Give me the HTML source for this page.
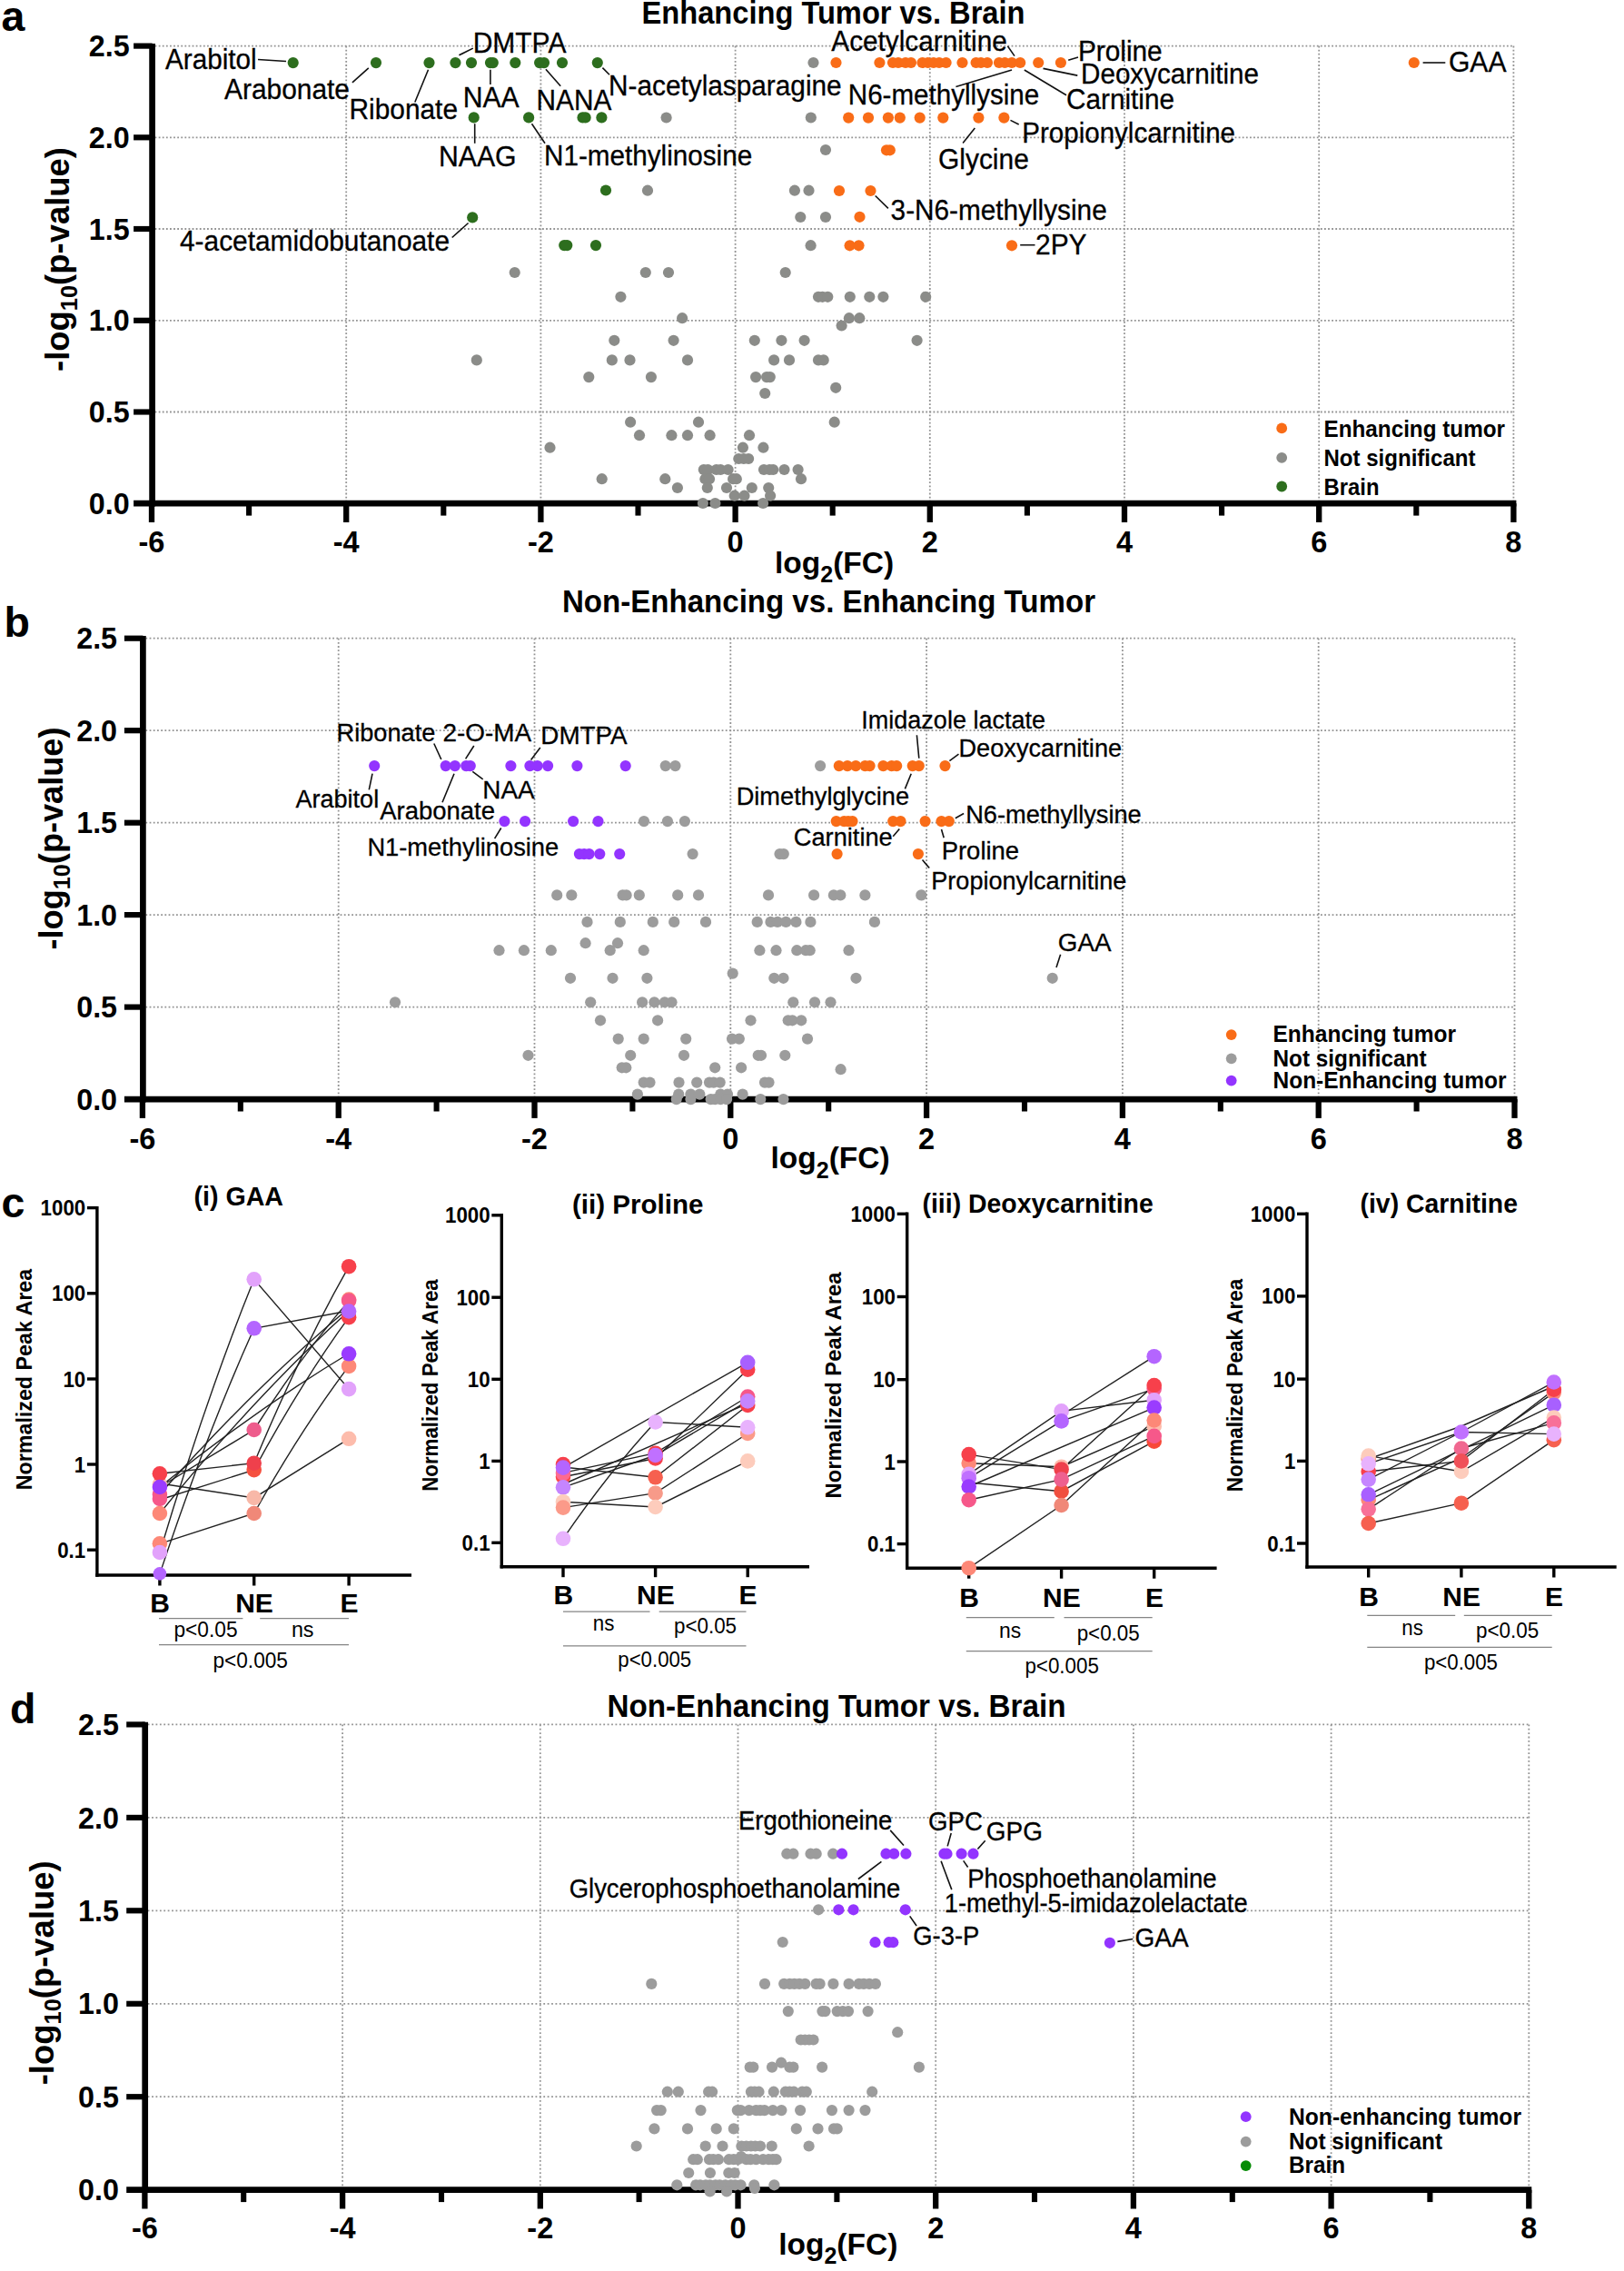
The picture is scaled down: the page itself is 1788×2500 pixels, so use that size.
<!DOCTYPE html>
<html lang="en"><head><meta charset="utf-8"><title>Figure</title>
<style>html,body{margin:0;padding:0;background:#fff}body{width:1788px;height:2500px;overflow:hidden}svg{display:block}text{font-family:'Liberation Sans', Arial, Helvetica, sans-serif;fill:#000}</style>
</head><body>
<svg width="1788" height="2500" viewBox="0 0 1788 2500">
<rect width="1788" height="2500" fill="#fff"/>
<text x="1.5" y="34.0" font-size="46.5" font-weight="bold">a</text>
<text x="4.5" y="700.5" font-size="46.5" font-weight="bold">b</text>
<text x="1.5" y="1340.3" font-size="46.5" font-weight="bold">c</text>
<text x="11.0" y="1897.0" font-size="46.5" font-weight="bold">d</text>
<g stroke="#939393" stroke-width="1.8" stroke-dasharray="1.8 2.30" fill="none">
<line x1="170.6" y1="453.5" x2="1666.4" y2="453.5"/>
<line x1="170.6" y1="352.8" x2="1666.4" y2="352.8"/>
<line x1="170.6" y1="252.0" x2="1666.4" y2="252.0"/>
<line x1="170.6" y1="151.3" x2="1666.4" y2="151.3"/>
<line x1="170.6" y1="50.6" x2="1666.4" y2="50.6"/>
<line x1="381.2" y1="50.6" x2="381.2" y2="551.2"/>
<line x1="595.4" y1="50.6" x2="595.4" y2="551.2"/>
<line x1="809.6" y1="50.6" x2="809.6" y2="551.2"/>
<line x1="1023.8" y1="50.6" x2="1023.8" y2="551.2"/>
<line x1="1238.0" y1="50.6" x2="1238.0" y2="551.2"/>
<line x1="1452.2" y1="50.6" x2="1452.2" y2="551.2"/>
<line x1="1666.4" y1="50.6" x2="1666.4" y2="551.2"/>
</g>
<g stroke="#000" fill="none">
<line x1="167.6" y1="47.9" x2="167.6" y2="557.6" stroke-width="6.7"/>
<line x1="147.1" y1="554.2" x2="1669.4" y2="554.2" stroke-width="6.7"/>
<line x1="147.1" y1="453.5" x2="167.6" y2="453.5" stroke-width="6.2"/>
<line x1="147.1" y1="352.8" x2="167.6" y2="352.8" stroke-width="6.2"/>
<line x1="147.1" y1="252.0" x2="167.6" y2="252.0" stroke-width="6.2"/>
<line x1="147.1" y1="151.3" x2="167.6" y2="151.3" stroke-width="6.2"/>
<line x1="147.1" y1="50.6" x2="167.6" y2="50.6" stroke-width="6.2"/>
<line x1="167.0" y1="554.2" x2="167.0" y2="575.0" stroke-width="6.3"/>
<line x1="274.1" y1="554.2" x2="274.1" y2="567.6" stroke-width="6.1"/>
<line x1="381.2" y1="554.2" x2="381.2" y2="575.0" stroke-width="6.3"/>
<line x1="488.3" y1="554.2" x2="488.3" y2="567.6" stroke-width="6.1"/>
<line x1="595.4" y1="554.2" x2="595.4" y2="575.0" stroke-width="6.3"/>
<line x1="702.5" y1="554.2" x2="702.5" y2="567.6" stroke-width="6.1"/>
<line x1="809.6" y1="554.2" x2="809.6" y2="575.0" stroke-width="6.3"/>
<line x1="916.7" y1="554.2" x2="916.7" y2="567.6" stroke-width="6.1"/>
<line x1="1023.8" y1="554.2" x2="1023.8" y2="575.0" stroke-width="6.3"/>
<line x1="1130.9" y1="554.2" x2="1130.9" y2="567.6" stroke-width="6.1"/>
<line x1="1238.0" y1="554.2" x2="1238.0" y2="575.0" stroke-width="6.3"/>
<line x1="1345.1" y1="554.2" x2="1345.1" y2="567.6" stroke-width="6.1"/>
<line x1="1452.2" y1="554.2" x2="1452.2" y2="575.0" stroke-width="6.3"/>
<line x1="1559.3" y1="554.2" x2="1559.3" y2="567.6" stroke-width="6.1"/>
<line x1="1666.4" y1="554.2" x2="1666.4" y2="575.0" stroke-width="6.3"/>
</g>
<g font-weight="bold" font-size="33.4">
<text x="97.8" y="565.8" textLength="44.9" lengthAdjust="spacingAndGlyphs">0.0</text>
<text x="97.8" y="465.1" textLength="44.9" lengthAdjust="spacingAndGlyphs">0.5</text>
<text x="97.8" y="364.4" textLength="44.9" lengthAdjust="spacingAndGlyphs">1.0</text>
<text x="97.8" y="263.6" textLength="44.9" lengthAdjust="spacingAndGlyphs">1.5</text>
<text x="97.8" y="162.9" textLength="44.9" lengthAdjust="spacingAndGlyphs">2.0</text>
<text x="97.8" y="62.2" textLength="44.9" lengthAdjust="spacingAndGlyphs">2.5</text>
<text x="167.0" y="607.8" text-anchor="middle" font-size="32.5">-6</text>
<text x="381.2" y="607.8" text-anchor="middle" font-size="32.5">-4</text>
<text x="595.4" y="607.8" text-anchor="middle" font-size="32.5">-2</text>
<text x="809.6" y="607.8" text-anchor="middle" font-size="32.5">0</text>
<text x="1023.8" y="607.8" text-anchor="middle" font-size="32.5">2</text>
<text x="1238.0" y="607.8" text-anchor="middle" font-size="32.5">4</text>
<text x="1452.2" y="607.8" text-anchor="middle" font-size="32.5">6</text>
<text x="1666.4" y="607.8" text-anchor="middle" font-size="32.5">8</text>
</g>
<text x="706.5" y="26.3" font-size="34.2" font-weight="bold" textLength="422.0" lengthAdjust="spacingAndGlyphs">Enhancing Tumor vs. Brain</text>
<text transform="translate(75.9 409.0) rotate(-90)" font-size="37.5" font-weight="bold" textLength="247.0" lengthAdjust="spacingAndGlyphs">-log<tspan font-size="26.2" dy="8.6">10</tspan><tspan dy="-8.6">(p-value)</tspan></text>
<text x="853.0" y="630.5" font-size="33.5" font-weight="bold">log<tspan font-size="25.0" dy="10.6">2</tspan><tspan dy="-10.6">(FC)</tspan></text>
<g stroke="#111" stroke-width="1.6" stroke-linecap="butt">
<line x1="284.0" y1="65.5" x2="315.0" y2="67.5"/>
<line x1="471.5" y1="76.8" x2="456.8" y2="112.5"/>
<line x1="405.8" y1="74.8" x2="387.9" y2="90.8"/>
<line x1="505.4" y1="60.8" x2="520.8" y2="53.1"/>
<line x1="539.9" y1="76.8" x2="539.9" y2="93.1"/>
<line x1="600.9" y1="76.2" x2="617.2" y2="94.7"/>
<line x1="663.4" y1="74.6" x2="671.0" y2="82.3"/>
<line x1="522.7" y1="136.2" x2="522.7" y2="157.8"/>
<line x1="585.5" y1="136.2" x2="600.0" y2="157.8"/>
<line x1="515.6" y1="245.5" x2="497.7" y2="261.5"/>
<line x1="1109.4" y1="50.8" x2="1117.0" y2="61.6"/>
<line x1="1176.2" y1="66.2" x2="1187.0" y2="63.1"/>
<line x1="1148.5" y1="75.4" x2="1186.3" y2="83.1"/>
<line x1="1114.0" y1="77.0" x2="1052.4" y2="95.4"/>
<line x1="1127.8" y1="77.0" x2="1174.0" y2="104.7"/>
<line x1="1112.5" y1="132.4" x2="1121.7" y2="137.0"/>
<line x1="1073.3" y1="141.0" x2="1060.1" y2="157.6"/>
<line x1="963.7" y1="215.5" x2="977.9" y2="229.4"/>
<line x1="1123.2" y1="269.7" x2="1139.5" y2="269.7"/>
<line x1="1566.6" y1="69.0" x2="1591.3" y2="69.0"/>
</g>
<text x="182.0" y="76.4" font-size="31.0" textLength="100.7" lengthAdjust="spacingAndGlyphs" stroke="#000" stroke-width="0.3">Arabitol</text>
<text x="247.0" y="108.5" font-size="31.0" textLength="138.0" lengthAdjust="spacingAndGlyphs" stroke="#000" stroke-width="0.3">Arabonate</text>
<text x="384.5" y="131.0" font-size="31.0" textLength="119.5" lengthAdjust="spacingAndGlyphs" stroke="#000" stroke-width="0.3">Ribonate</text>
<text x="520.7" y="58.3" font-size="31.0" textLength="102.7" lengthAdjust="spacingAndGlyphs" stroke="#000" stroke-width="0.3">DMTPA</text>
<text x="509.7" y="117.7" font-size="31.0" textLength="62.0" lengthAdjust="spacingAndGlyphs" stroke="#000" stroke-width="0.3">NAA</text>
<text x="590.6" y="121.4" font-size="31.0" textLength="82.7" lengthAdjust="spacingAndGlyphs" stroke="#000" stroke-width="0.3">NANA</text>
<text x="670.0" y="105.4" font-size="31.0" textLength="256.7" lengthAdjust="spacingAndGlyphs" stroke="#000" stroke-width="0.3">N-acetylasparagine</text>
<text x="482.9" y="183.0" font-size="31.0" textLength="85.7" lengthAdjust="spacingAndGlyphs" stroke="#000" stroke-width="0.3">NAAG</text>
<text x="599.0" y="181.5" font-size="31.0" textLength="229.2" lengthAdjust="spacingAndGlyphs" stroke="#000" stroke-width="0.3">N1-methylinosine</text>
<text x="198.0" y="276.3" font-size="31.0" textLength="297.0" lengthAdjust="spacingAndGlyphs" stroke="#000" stroke-width="0.3">4-acetamidobutanoate</text>
<text x="915.3" y="56.0" font-size="31.0" textLength="193.5" lengthAdjust="spacingAndGlyphs" stroke="#000" stroke-width="0.3">Acetylcarnitine</text>
<text x="1186.9" y="67.1" font-size="31.0" textLength="92.8" lengthAdjust="spacingAndGlyphs" stroke="#000" stroke-width="0.3">Proline</text>
<text x="1190.0" y="92.4" font-size="31.0" textLength="196.0" lengthAdjust="spacingAndGlyphs" stroke="#000" stroke-width="0.3">Deoxycarnitine</text>
<text x="933.8" y="114.5" font-size="31.0" textLength="210.4" lengthAdjust="spacingAndGlyphs" stroke="#000" stroke-width="0.3">N6-methyllysine</text>
<text x="1174.0" y="120.0" font-size="31.0" textLength="119.0" lengthAdjust="spacingAndGlyphs" stroke="#000" stroke-width="0.3">Carnitine</text>
<text x="1125.3" y="157.0" font-size="31.0" textLength="234.7" lengthAdjust="spacingAndGlyphs" stroke="#000" stroke-width="0.3">Propionylcarnitine</text>
<text x="1033.0" y="186.3" font-size="31.0" textLength="99.8" lengthAdjust="spacingAndGlyphs" stroke="#000" stroke-width="0.3">Glycine</text>
<text x="980.6" y="241.7" font-size="31.0" textLength="238.1" lengthAdjust="spacingAndGlyphs" stroke="#000" stroke-width="0.3">3-N6-methyllysine</text>
<text x="1140.0" y="279.6" font-size="31.0" textLength="56.6" lengthAdjust="spacingAndGlyphs" stroke="#000" stroke-width="0.3">2PY</text>
<text x="1594.9" y="79.4" font-size="31.0" textLength="63.6" lengthAdjust="spacingAndGlyphs" stroke="#000" stroke-width="0.3">GAA</text>
<g fill="#8b8c89">
<circle cx="895.5" cy="69.0" r="6.1"/>
<circle cx="733.6" cy="129.5" r="6.1"/>
<circle cx="892.8" cy="129.5" r="6.1"/>
<circle cx="909.0" cy="165.0" r="6.1"/>
<circle cx="713.0" cy="209.7" r="6.1"/>
<circle cx="874.9" cy="209.7" r="6.1"/>
<circle cx="890.5" cy="209.7" r="6.1"/>
<circle cx="881.3" cy="239.0" r="6.1"/>
<circle cx="909.0" cy="239.0" r="6.1"/>
<circle cx="892.6" cy="270.2" r="6.1"/>
<circle cx="566.7" cy="300.0" r="6.1"/>
<circle cx="710.8" cy="300.0" r="6.1"/>
<circle cx="736.0" cy="300.0" r="6.1"/>
<circle cx="864.7" cy="300.0" r="6.1"/>
<circle cx="683.4" cy="326.8" r="6.1"/>
<circle cx="901.0" cy="326.8" r="6.1"/>
<circle cx="905.5" cy="326.8" r="6.1"/>
<circle cx="911.3" cy="326.8" r="6.1"/>
<circle cx="935.8" cy="326.8" r="6.1"/>
<circle cx="957.3" cy="326.8" r="6.1"/>
<circle cx="972.4" cy="326.8" r="6.1"/>
<circle cx="1019.2" cy="326.8" r="6.1"/>
<circle cx="751.1" cy="350.2" r="6.1"/>
<circle cx="934.9" cy="350.2" r="6.1"/>
<circle cx="946.3" cy="350.2" r="6.1"/>
<circle cx="926.6" cy="358.5" r="6.1"/>
<circle cx="676.3" cy="374.8" r="6.1"/>
<circle cx="741.6" cy="374.8" r="6.1"/>
<circle cx="830.8" cy="374.8" r="6.1"/>
<circle cx="860.4" cy="374.8" r="6.1"/>
<circle cx="885.6" cy="374.8" r="6.1"/>
<circle cx="1009.6" cy="374.8" r="6.1"/>
<circle cx="524.8" cy="396.4" r="6.1"/>
<circle cx="673.8" cy="396.4" r="6.1"/>
<circle cx="693.5" cy="396.4" r="6.1"/>
<circle cx="757.0" cy="396.4" r="6.1"/>
<circle cx="852.1" cy="396.4" r="6.1"/>
<circle cx="869.0" cy="396.4" r="6.1"/>
<circle cx="901.0" cy="396.4" r="6.1"/>
<circle cx="906.7" cy="396.4" r="6.1"/>
<circle cx="648.3" cy="415.1" r="6.1"/>
<circle cx="716.9" cy="415.1" r="6.1"/>
<circle cx="832.1" cy="415.1" r="6.1"/>
<circle cx="844.1" cy="415.1" r="6.1"/>
<circle cx="847.8" cy="415.1" r="6.1"/>
<circle cx="920.2" cy="426.8" r="6.1"/>
<circle cx="842.2" cy="433.0" r="6.1"/>
<circle cx="694.1" cy="464.7" r="6.1"/>
<circle cx="769.0" cy="464.7" r="6.1"/>
<circle cx="918.7" cy="464.7" r="6.1"/>
<circle cx="704.0" cy="479.2" r="6.1"/>
<circle cx="739.4" cy="479.2" r="6.1"/>
<circle cx="757.0" cy="479.2" r="6.1"/>
<circle cx="781.6" cy="479.2" r="6.1"/>
<circle cx="825.0" cy="479.2" r="6.1"/>
<circle cx="605.5" cy="492.7" r="6.1"/>
<circle cx="817.9" cy="492.7" r="6.1"/>
<circle cx="840.4" cy="492.7" r="6.1"/>
<circle cx="813.3" cy="505.0" r="6.1"/>
<circle cx="818.8" cy="505.0" r="6.1"/>
<circle cx="824.1" cy="505.0" r="6.1"/>
<circle cx="774.8" cy="517.0" r="6.1"/>
<circle cx="779.4" cy="517.0" r="6.1"/>
<circle cx="788.7" cy="517.0" r="6.1"/>
<circle cx="793.3" cy="517.0" r="6.1"/>
<circle cx="801.6" cy="517.0" r="6.1"/>
<circle cx="841.0" cy="517.0" r="6.1"/>
<circle cx="847.2" cy="517.0" r="6.1"/>
<circle cx="851.2" cy="517.0" r="6.1"/>
<circle cx="863.5" cy="517.0" r="6.1"/>
<circle cx="878.6" cy="517.0" r="6.1"/>
<circle cx="662.7" cy="527.2" r="6.1"/>
<circle cx="732.3" cy="527.2" r="6.1"/>
<circle cx="776.4" cy="527.2" r="6.1"/>
<circle cx="781.0" cy="527.2" r="6.1"/>
<circle cx="807.1" cy="527.2" r="6.1"/>
<circle cx="810.8" cy="527.2" r="6.1"/>
<circle cx="882.0" cy="527.2" r="6.1"/>
<circle cx="745.9" cy="537.0" r="6.1"/>
<circle cx="778.8" cy="537.0" r="6.1"/>
<circle cx="800.0" cy="537.0" r="6.1"/>
<circle cx="827.8" cy="537.0" r="6.1"/>
<circle cx="846.2" cy="537.0" r="6.1"/>
<circle cx="808.7" cy="545.7" r="6.1"/>
<circle cx="819.5" cy="545.7" r="6.1"/>
<circle cx="848.1" cy="545.7" r="6.1"/>
<circle cx="773.9" cy="554.0" r="6.1"/>
<circle cx="787.4" cy="554.0" r="6.1"/>
<circle cx="840.1" cy="554.0" r="6.1"/>
</g>
<g fill="#2d6e1e">
<circle cx="322.7" cy="69.1" r="6.1"/>
<circle cx="414.0" cy="69.1" r="6.1"/>
<circle cx="472.5" cy="69.1" r="6.1"/>
<circle cx="501.4" cy="69.1" r="6.1"/>
<circle cx="519.0" cy="69.1" r="6.1"/>
<circle cx="540.0" cy="69.1" r="6.1"/>
<circle cx="542.8" cy="69.1" r="6.1"/>
<circle cx="567.3" cy="69.1" r="6.1"/>
<circle cx="594.1" cy="69.1" r="6.1"/>
<circle cx="599.0" cy="69.1" r="6.1"/>
<circle cx="619.0" cy="69.1" r="6.1"/>
<circle cx="657.8" cy="69.1" r="6.1"/>
<circle cx="521.7" cy="129.4" r="6.1"/>
<circle cx="582.1" cy="129.4" r="6.1"/>
<circle cx="641.5" cy="129.4" r="6.1"/>
<circle cx="644.6" cy="129.4" r="6.1"/>
<circle cx="662.4" cy="129.4" r="6.1"/>
<circle cx="667.0" cy="209.5" r="6.1"/>
<circle cx="520.2" cy="239.4" r="6.1"/>
<circle cx="621.2" cy="270.1" r="6.1"/>
<circle cx="624.3" cy="270.1" r="6.1"/>
<circle cx="656.0" cy="270.1" r="6.1"/>
</g>
<g fill="#f96c17">
<circle cx="920.5" cy="69.0" r="6.1"/>
<circle cx="968.4" cy="69.0" r="6.1"/>
<circle cx="983.0" cy="69.0" r="6.1"/>
<circle cx="989.0" cy="69.0" r="6.1"/>
<circle cx="997.0" cy="69.0" r="6.1"/>
<circle cx="1003.0" cy="69.0" r="6.1"/>
<circle cx="1015.5" cy="69.0" r="6.1"/>
<circle cx="1021.6" cy="69.0" r="6.1"/>
<circle cx="1027.8" cy="69.0" r="6.1"/>
<circle cx="1034.0" cy="69.0" r="6.1"/>
<circle cx="1041.6" cy="69.0" r="6.1"/>
<circle cx="1059.5" cy="69.0" r="6.1"/>
<circle cx="1074.6" cy="69.0" r="6.1"/>
<circle cx="1080.0" cy="69.0" r="6.1"/>
<circle cx="1087.0" cy="69.0" r="6.1"/>
<circle cx="1100.0" cy="69.0" r="6.1"/>
<circle cx="1106.3" cy="69.0" r="6.1"/>
<circle cx="1114.0" cy="69.0" r="6.1"/>
<circle cx="1123.2" cy="69.0" r="6.1"/>
<circle cx="1143.2" cy="69.0" r="6.1"/>
<circle cx="1167.9" cy="69.0" r="6.1"/>
<circle cx="1556.8" cy="69.0" r="6.1"/>
<circle cx="934.2" cy="129.6" r="6.1"/>
<circle cx="956.0" cy="129.6" r="6.1"/>
<circle cx="977.9" cy="129.6" r="6.1"/>
<circle cx="990.8" cy="129.6" r="6.1"/>
<circle cx="1012.7" cy="129.6" r="6.1"/>
<circle cx="1038.3" cy="129.6" r="6.1"/>
<circle cx="1077.4" cy="129.6" r="6.1"/>
<circle cx="1105.4" cy="129.6" r="6.1"/>
<circle cx="976.0" cy="165.3" r="6.1"/>
<circle cx="979.8" cy="165.3" r="6.1"/>
<circle cx="924.0" cy="210.0" r="6.1"/>
<circle cx="958.5" cy="210.0" r="6.1"/>
<circle cx="946.5" cy="238.8" r="6.1"/>
<circle cx="935.6" cy="270.3" r="6.1"/>
<circle cx="945.5" cy="270.3" r="6.1"/>
<circle cx="1114.0" cy="270.3" r="6.1"/>
</g>
<circle cx="1411.2" cy="471.4" r="5.9" fill="#f96c17"/><circle cx="1411.2" cy="503.8" r="5.9" fill="#8b8c89"/><circle cx="1411.2" cy="535.5" r="5.9" fill="#2d6e1e"/>
<text x="1457.5" y="480.7" font-size="25.7" font-weight="bold" textLength="199.5" lengthAdjust="spacingAndGlyphs">Enhancing tumor</text>
<text x="1457.5" y="513.3" font-size="25.7" font-weight="bold" textLength="167.0" lengthAdjust="spacingAndGlyphs">Not significant</text>
<text x="1457.5" y="544.7" font-size="25.7" font-weight="bold" textLength="61.0" lengthAdjust="spacingAndGlyphs">Brain</text>
<g stroke="#939393" stroke-width="1.8" stroke-dasharray="1.8 2.40" fill="none">
<line x1="160.4" y1="1108.6" x2="1667.5" y2="1108.6"/>
<line x1="160.4" y1="1007.1" x2="1667.5" y2="1007.1"/>
<line x1="160.4" y1="905.7" x2="1667.5" y2="905.7"/>
<line x1="160.4" y1="804.2" x2="1667.5" y2="804.2"/>
<line x1="160.4" y1="702.7" x2="1667.5" y2="702.7"/>
<line x1="372.7" y1="702.7" x2="372.7" y2="1207.1"/>
<line x1="588.5" y1="702.7" x2="588.5" y2="1207.1"/>
<line x1="804.3" y1="702.7" x2="804.3" y2="1207.1"/>
<line x1="1020.1" y1="702.7" x2="1020.1" y2="1207.1"/>
<line x1="1235.9" y1="702.7" x2="1235.9" y2="1207.1"/>
<line x1="1451.7" y1="702.7" x2="1451.7" y2="1207.1"/>
<line x1="1667.5" y1="702.7" x2="1667.5" y2="1207.1"/>
</g>
<g stroke="#000" fill="none">
<line x1="157.4" y1="700.0" x2="157.4" y2="1213.4" stroke-width="6.7"/>
<line x1="136.9" y1="1210.1" x2="1670.5" y2="1210.1" stroke-width="6.7"/>
<line x1="136.9" y1="1108.6" x2="157.4" y2="1108.6" stroke-width="6.2"/>
<line x1="136.9" y1="1007.1" x2="157.4" y2="1007.1" stroke-width="6.2"/>
<line x1="136.9" y1="905.7" x2="157.4" y2="905.7" stroke-width="6.2"/>
<line x1="136.9" y1="804.2" x2="157.4" y2="804.2" stroke-width="6.2"/>
<line x1="136.9" y1="702.7" x2="157.4" y2="702.7" stroke-width="6.2"/>
<line x1="156.9" y1="1210.1" x2="156.9" y2="1230.9" stroke-width="6.3"/>
<line x1="264.8" y1="1210.1" x2="264.8" y2="1223.5" stroke-width="6.1"/>
<line x1="372.7" y1="1210.1" x2="372.7" y2="1230.9" stroke-width="6.3"/>
<line x1="480.6" y1="1210.1" x2="480.6" y2="1223.5" stroke-width="6.1"/>
<line x1="588.5" y1="1210.1" x2="588.5" y2="1230.9" stroke-width="6.3"/>
<line x1="696.4" y1="1210.1" x2="696.4" y2="1223.5" stroke-width="6.1"/>
<line x1="804.3" y1="1210.1" x2="804.3" y2="1230.9" stroke-width="6.3"/>
<line x1="912.2" y1="1210.1" x2="912.2" y2="1223.5" stroke-width="6.1"/>
<line x1="1020.1" y1="1210.1" x2="1020.1" y2="1230.9" stroke-width="6.3"/>
<line x1="1128.0" y1="1210.1" x2="1128.0" y2="1223.5" stroke-width="6.1"/>
<line x1="1235.9" y1="1210.1" x2="1235.9" y2="1230.9" stroke-width="6.3"/>
<line x1="1343.8" y1="1210.1" x2="1343.8" y2="1223.5" stroke-width="6.1"/>
<line x1="1451.7" y1="1210.1" x2="1451.7" y2="1230.9" stroke-width="6.3"/>
<line x1="1559.6" y1="1210.1" x2="1559.6" y2="1223.5" stroke-width="6.1"/>
<line x1="1667.5" y1="1210.1" x2="1667.5" y2="1230.9" stroke-width="6.3"/>
</g>
<g font-weight="bold" font-size="33.4">
<text x="84.2" y="1221.7" textLength="44.9" lengthAdjust="spacingAndGlyphs">0.0</text>
<text x="84.2" y="1120.2" textLength="44.9" lengthAdjust="spacingAndGlyphs">0.5</text>
<text x="84.2" y="1018.7" textLength="44.9" lengthAdjust="spacingAndGlyphs">1.0</text>
<text x="84.2" y="917.3" textLength="44.9" lengthAdjust="spacingAndGlyphs">1.5</text>
<text x="84.2" y="815.8" textLength="44.9" lengthAdjust="spacingAndGlyphs">2.0</text>
<text x="84.2" y="714.3" textLength="44.9" lengthAdjust="spacingAndGlyphs">2.5</text>
<text x="156.9" y="1264.7" text-anchor="middle" font-size="32.5">-6</text>
<text x="372.7" y="1264.7" text-anchor="middle" font-size="32.5">-4</text>
<text x="588.5" y="1264.7" text-anchor="middle" font-size="32.5">-2</text>
<text x="804.3" y="1264.7" text-anchor="middle" font-size="32.5">0</text>
<text x="1020.1" y="1264.7" text-anchor="middle" font-size="32.5">2</text>
<text x="1235.9" y="1264.7" text-anchor="middle" font-size="32.5">4</text>
<text x="1451.7" y="1264.7" text-anchor="middle" font-size="32.5">6</text>
<text x="1667.5" y="1264.7" text-anchor="middle" font-size="32.5">8</text>
</g>
<text x="619.0" y="674.2" font-size="34.2" font-weight="bold" textLength="587.0" lengthAdjust="spacingAndGlyphs">Non-Enhancing vs. Enhancing Tumor</text>
<text transform="translate(68.5 1045.5) rotate(-90)" font-size="37.5" font-weight="bold" textLength="245.0" lengthAdjust="spacingAndGlyphs">-log<tspan font-size="26.2" dy="8.6">10</tspan><tspan dy="-8.6">(p-value)</tspan></text>
<text x="848.5" y="1286.2" font-size="33.5" font-weight="bold">log<tspan font-size="25.0" dy="10.6">2</tspan><tspan dy="-10.6">(FC)</tspan></text>
<g stroke="#111" stroke-width="1.6" stroke-linecap="butt">
<line x1="410.0" y1="851.7" x2="406.3" y2="869.3"/>
<line x1="477.8" y1="818.5" x2="485.8" y2="836.0"/>
<line x1="521.8" y1="821.0" x2="512.6" y2="835.4"/>
<line x1="594.8" y1="823.1" x2="584.6" y2="836.4"/>
<line x1="520.3" y1="849.3" x2="531.7" y2="857.9"/>
<line x1="500.0" y1="851.7" x2="487.0" y2="883.2"/>
<line x1="551.7" y1="911.5" x2="544.6" y2="923.2"/>
<line x1="1009.4" y1="809.3" x2="1011.8" y2="834.8"/>
<line x1="1045.4" y1="837.6" x2="1055.5" y2="830.2"/>
<line x1="1003.2" y1="851.7" x2="996.4" y2="868.4"/>
<line x1="1051.8" y1="900.7" x2="1061.1" y2="895.5"/>
<line x1="990.3" y1="912.4" x2="983.2" y2="920.7"/>
<line x1="1036.5" y1="913.0" x2="1039.2" y2="922.3"/>
<line x1="1015.5" y1="946.6" x2="1023.2" y2="955.5"/>
<line x1="1167.6" y1="1050.8" x2="1163.0" y2="1065.0"/>
</g>
<text x="370.6" y="816.0" font-size="28.4" textLength="108.7" lengthAdjust="spacingAndGlyphs" stroke="#000" stroke-width="0.3">Ribonate</text>
<text x="487.5" y="816.0" font-size="28.4" textLength="97.5" lengthAdjust="spacingAndGlyphs" stroke="#000" stroke-width="0.3">2-O-MA</text>
<text x="595.3" y="819.1" font-size="28.4" textLength="95.3" lengthAdjust="spacingAndGlyphs" stroke="#000" stroke-width="0.3">DMTPA</text>
<text x="531.3" y="878.5" font-size="28.4" textLength="57.4" lengthAdjust="spacingAndGlyphs" stroke="#000" stroke-width="0.3">NAA</text>
<text x="325.4" y="889.0" font-size="28.4" textLength="91.8" lengthAdjust="spacingAndGlyphs" stroke="#000" stroke-width="0.3">Arabitol</text>
<text x="418.3" y="901.6" font-size="28.4" textLength="126.7" lengthAdjust="spacingAndGlyphs" stroke="#000" stroke-width="0.3">Arabonate</text>
<text x="404.4" y="941.7" font-size="28.4" textLength="210.8" lengthAdjust="spacingAndGlyphs" stroke="#000" stroke-width="0.3">N1-methylinosine</text>
<text x="948.3" y="801.6" font-size="28.4" textLength="202.7" lengthAdjust="spacingAndGlyphs" stroke="#000" stroke-width="0.3">Imidazole lactate</text>
<text x="1055.5" y="833.0" font-size="28.4" textLength="179.6" lengthAdjust="spacingAndGlyphs" stroke="#000" stroke-width="0.3">Deoxycarnitine</text>
<text x="810.7" y="886.2" font-size="28.4" textLength="190.4" lengthAdjust="spacingAndGlyphs" stroke="#000" stroke-width="0.3">Dimethylglycine</text>
<text x="1063.2" y="905.6" font-size="28.4" textLength="193.5" lengthAdjust="spacingAndGlyphs" stroke="#000" stroke-width="0.3">N6-methyllysine</text>
<text x="873.8" y="930.9" font-size="28.4" textLength="108.9" lengthAdjust="spacingAndGlyphs" stroke="#000" stroke-width="0.3">Carnitine</text>
<text x="1036.7" y="946.3" font-size="28.4" textLength="85.4" lengthAdjust="spacingAndGlyphs" stroke="#000" stroke-width="0.3">Proline</text>
<text x="1025.3" y="978.6" font-size="28.4" textLength="215.0" lengthAdjust="spacingAndGlyphs" stroke="#000" stroke-width="0.3">Propionylcarnitine</text>
<text x="1164.8" y="1047.3" font-size="28.4" textLength="58.6" lengthAdjust="spacingAndGlyphs" stroke="#000" stroke-width="0.3">GAA</text>
<g fill="#9c9c9c">
<circle cx="732.7" cy="843.1" r="6.1"/>
<circle cx="743.5" cy="843.1" r="6.1"/>
<circle cx="903.1" cy="843.1" r="6.1"/>
<circle cx="709.0" cy="904.1" r="6.1"/>
<circle cx="734.9" cy="904.1" r="6.1"/>
<circle cx="753.9" cy="904.1" r="6.1"/>
<circle cx="762.6" cy="940.1" r="6.1"/>
<circle cx="858.5" cy="940.1" r="6.1"/>
<circle cx="862.8" cy="940.1" r="6.1"/>
<circle cx="613.2" cy="985.4" r="6.1"/>
<circle cx="629.3" cy="985.4" r="6.1"/>
<circle cx="685.6" cy="985.4" r="6.1"/>
<circle cx="689.6" cy="985.4" r="6.1"/>
<circle cx="703.8" cy="985.4" r="6.1"/>
<circle cx="746.2" cy="985.4" r="6.1"/>
<circle cx="769.0" cy="985.4" r="6.1"/>
<circle cx="846.0" cy="985.4" r="6.1"/>
<circle cx="896.1" cy="985.4" r="6.1"/>
<circle cx="917.9" cy="985.4" r="6.1"/>
<circle cx="925.3" cy="985.4" r="6.1"/>
<circle cx="952.4" cy="985.4" r="6.1"/>
<circle cx="1014.3" cy="985.4" r="6.1"/>
<circle cx="646.5" cy="1014.9" r="6.1"/>
<circle cx="682.8" cy="1014.9" r="6.1"/>
<circle cx="718.8" cy="1014.9" r="6.1"/>
<circle cx="742.2" cy="1014.9" r="6.1"/>
<circle cx="777.0" cy="1014.9" r="6.1"/>
<circle cx="833.7" cy="1014.9" r="6.1"/>
<circle cx="848.5" cy="1014.9" r="6.1"/>
<circle cx="856.0" cy="1014.9" r="6.1"/>
<circle cx="865.3" cy="1014.9" r="6.1"/>
<circle cx="876.4" cy="1014.9" r="6.1"/>
<circle cx="892.4" cy="1014.9" r="6.1"/>
<circle cx="962.9" cy="1014.9" r="6.1"/>
<circle cx="644.6" cy="1038.2" r="6.1"/>
<circle cx="680.0" cy="1038.2" r="6.1"/>
<circle cx="549.5" cy="1046.2" r="6.1"/>
<circle cx="576.9" cy="1046.2" r="6.1"/>
<circle cx="606.8" cy="1046.2" r="6.1"/>
<circle cx="671.7" cy="1046.2" r="6.1"/>
<circle cx="708.7" cy="1046.2" r="6.1"/>
<circle cx="836.4" cy="1046.2" r="6.1"/>
<circle cx="854.5" cy="1046.2" r="6.1"/>
<circle cx="877.3" cy="1046.2" r="6.1"/>
<circle cx="887.1" cy="1046.2" r="6.1"/>
<circle cx="891.7" cy="1046.2" r="6.1"/>
<circle cx="934.5" cy="1046.2" r="6.1"/>
<circle cx="806.7" cy="1071.6" r="6.1"/>
<circle cx="628.0" cy="1076.8" r="6.1"/>
<circle cx="674.5" cy="1076.8" r="6.1"/>
<circle cx="712.4" cy="1076.8" r="6.1"/>
<circle cx="852.3" cy="1076.8" r="6.1"/>
<circle cx="862.5" cy="1076.8" r="6.1"/>
<circle cx="942.5" cy="1076.8" r="6.1"/>
<circle cx="1158.7" cy="1076.8" r="6.1"/>
<circle cx="435.0" cy="1103.3" r="6.1"/>
<circle cx="650.2" cy="1103.3" r="6.1"/>
<circle cx="707.1" cy="1103.3" r="6.1"/>
<circle cx="720.4" cy="1103.3" r="6.1"/>
<circle cx="731.8" cy="1103.3" r="6.1"/>
<circle cx="739.5" cy="1103.3" r="6.1"/>
<circle cx="873.3" cy="1103.3" r="6.1"/>
<circle cx="897.0" cy="1103.3" r="6.1"/>
<circle cx="914.5" cy="1103.3" r="6.1"/>
<circle cx="661.0" cy="1123.3" r="6.1"/>
<circle cx="724.1" cy="1123.3" r="6.1"/>
<circle cx="826.5" cy="1123.3" r="6.1"/>
<circle cx="867.7" cy="1123.3" r="6.1"/>
<circle cx="872.4" cy="1123.3" r="6.1"/>
<circle cx="882.2" cy="1123.3" r="6.1"/>
<circle cx="680.7" cy="1143.6" r="6.1"/>
<circle cx="708.7" cy="1143.6" r="6.1"/>
<circle cx="755.2" cy="1143.6" r="6.1"/>
<circle cx="806.0" cy="1143.6" r="6.1"/>
<circle cx="813.8" cy="1143.6" r="6.1"/>
<circle cx="889.0" cy="1143.6" r="6.1"/>
<circle cx="581.5" cy="1161.8" r="6.1"/>
<circle cx="694.2" cy="1161.8" r="6.1"/>
<circle cx="753.0" cy="1161.8" r="6.1"/>
<circle cx="834.7" cy="1161.8" r="6.1"/>
<circle cx="838.0" cy="1161.8" r="6.1"/>
<circle cx="864.3" cy="1161.8" r="6.1"/>
<circle cx="684.7" cy="1175.3" r="6.1"/>
<circle cx="689.3" cy="1175.3" r="6.1"/>
<circle cx="787.2" cy="1175.3" r="6.1"/>
<circle cx="816.1" cy="1175.3" r="6.1"/>
<circle cx="925.6" cy="1177.2" r="6.1"/>
<circle cx="708.7" cy="1191.6" r="6.1"/>
<circle cx="715.5" cy="1191.6" r="6.1"/>
<circle cx="747.5" cy="1191.6" r="6.1"/>
<circle cx="767.2" cy="1191.6" r="6.1"/>
<circle cx="781.0" cy="1191.6" r="6.1"/>
<circle cx="785.7" cy="1191.6" r="6.1"/>
<circle cx="792.7" cy="1191.6" r="6.1"/>
<circle cx="842.0" cy="1191.6" r="6.1"/>
<circle cx="846.5" cy="1191.6" r="6.1"/>
<circle cx="701.9" cy="1204.6" r="6.1"/>
<circle cx="747.2" cy="1204.6" r="6.1"/>
<circle cx="760.4" cy="1204.6" r="6.1"/>
<circle cx="770.3" cy="1204.6" r="6.1"/>
<circle cx="793.3" cy="1204.6" r="6.1"/>
<circle cx="801.0" cy="1204.6" r="6.1"/>
<circle cx="817.6" cy="1204.6" r="6.1"/>
<circle cx="744.7" cy="1210.1" r="6.1"/>
<circle cx="760.4" cy="1210.1" r="6.1"/>
<circle cx="782.6" cy="1210.1" r="6.1"/>
<circle cx="787.2" cy="1210.1" r="6.1"/>
<circle cx="793.3" cy="1210.1" r="6.1"/>
<circle cx="800.1" cy="1210.1" r="6.1"/>
<circle cx="837.3" cy="1210.1" r="6.1"/>
<circle cx="862.5" cy="1210.1" r="6.1"/>
</g>
<g fill="#9334ff">
<circle cx="412.2" cy="843.1" r="6.1"/>
<circle cx="490.7" cy="843.1" r="6.1"/>
<circle cx="500.9" cy="843.1" r="6.1"/>
<circle cx="513.2" cy="843.1" r="6.1"/>
<circle cx="517.8" cy="843.1" r="6.1"/>
<circle cx="562.4" cy="843.1" r="6.1"/>
<circle cx="583.4" cy="843.1" r="6.1"/>
<circle cx="591.7" cy="843.1" r="6.1"/>
<circle cx="603.1" cy="843.1" r="6.1"/>
<circle cx="635.4" cy="843.1" r="6.1"/>
<circle cx="688.7" cy="843.1" r="6.1"/>
<circle cx="555.4" cy="904.1" r="6.1"/>
<circle cx="578.1" cy="904.1" r="6.1"/>
<circle cx="631.1" cy="904.1" r="6.1"/>
<circle cx="658.5" cy="904.1" r="6.1"/>
<circle cx="637.9" cy="940.1" r="6.1"/>
<circle cx="643.1" cy="940.1" r="6.1"/>
<circle cx="648.6" cy="940.1" r="6.1"/>
<circle cx="660.3" cy="940.1" r="6.1"/>
<circle cx="682.2" cy="940.1" r="6.1"/>
</g>
<g fill="#f96c17">
<circle cx="923.8" cy="843.1" r="6.1"/>
<circle cx="933.0" cy="843.1" r="6.1"/>
<circle cx="942.2" cy="843.1" r="6.1"/>
<circle cx="952.4" cy="843.1" r="6.1"/>
<circle cx="957.6" cy="843.1" r="6.1"/>
<circle cx="972.4" cy="843.1" r="6.1"/>
<circle cx="981.7" cy="843.1" r="6.1"/>
<circle cx="987.2" cy="843.1" r="6.1"/>
<circle cx="1004.7" cy="843.1" r="6.1"/>
<circle cx="1011.8" cy="843.1" r="6.1"/>
<circle cx="1040.5" cy="843.1" r="6.1"/>
<circle cx="920.7" cy="904.1" r="6.1"/>
<circle cx="929.3" cy="904.1" r="6.1"/>
<circle cx="933.9" cy="904.1" r="6.1"/>
<circle cx="938.5" cy="904.1" r="6.1"/>
<circle cx="983.2" cy="904.1" r="6.1"/>
<circle cx="991.5" cy="904.1" r="6.1"/>
<circle cx="1018.6" cy="904.1" r="6.1"/>
<circle cx="1036.5" cy="904.1" r="6.1"/>
<circle cx="1044.8" cy="904.1" r="6.1"/>
<circle cx="921.6" cy="940.1" r="6.1"/>
<circle cx="1010.9" cy="940.1" r="6.1"/>
</g>
<circle cx="1355.7" cy="1139.1" r="5.9" fill="#f96c17"/><circle cx="1355.7" cy="1165.3" r="5.9" fill="#9c9c9c"/><circle cx="1355.7" cy="1189.6" r="5.9" fill="#9334ff"/>
<text x="1401.5" y="1147.1" font-size="26.0" font-weight="bold" textLength="201.5" lengthAdjust="spacingAndGlyphs">Enhancing tumor</text>
<text x="1401.5" y="1173.9" font-size="26.0" font-weight="bold" textLength="169.0" lengthAdjust="spacingAndGlyphs">Not significant</text>
<text x="1401.5" y="1197.9" font-size="26.0" font-weight="bold" textLength="257.0" lengthAdjust="spacingAndGlyphs">Non-Enhancing tumor</text>
<g stroke="#939393" stroke-width="1.8" stroke-dasharray="1.8 2.60" fill="none">
<line x1="162.7" y1="2308.2" x2="1683.3" y2="2308.2"/>
<line x1="162.7" y1="2205.8" x2="1683.3" y2="2205.8"/>
<line x1="162.7" y1="2103.3" x2="1683.3" y2="2103.3"/>
<line x1="162.7" y1="2000.9" x2="1683.3" y2="2000.9"/>
<line x1="162.7" y1="1898.4" x2="1683.3" y2="1898.4"/>
<line x1="377.1" y1="1898.4" x2="377.1" y2="2407.7"/>
<line x1="594.8" y1="1898.4" x2="594.8" y2="2407.7"/>
<line x1="812.5" y1="1898.4" x2="812.5" y2="2407.7"/>
<line x1="1030.2" y1="1898.4" x2="1030.2" y2="2407.7"/>
<line x1="1247.9" y1="1898.4" x2="1247.9" y2="2407.7"/>
<line x1="1465.6" y1="1898.4" x2="1465.6" y2="2407.7"/>
<line x1="1683.3" y1="1898.4" x2="1683.3" y2="2407.7"/>
</g>
<g stroke="#000" fill="none">
<line x1="159.7" y1="1895.7" x2="159.7" y2="2414.0" stroke-width="6.7"/>
<line x1="139.2" y1="2410.7" x2="1686.3" y2="2410.7" stroke-width="6.7"/>
<line x1="139.2" y1="2308.2" x2="159.7" y2="2308.2" stroke-width="6.2"/>
<line x1="139.2" y1="2205.8" x2="159.7" y2="2205.8" stroke-width="6.2"/>
<line x1="139.2" y1="2103.3" x2="159.7" y2="2103.3" stroke-width="6.2"/>
<line x1="139.2" y1="2000.9" x2="159.7" y2="2000.9" stroke-width="6.2"/>
<line x1="139.2" y1="1898.4" x2="159.7" y2="1898.4" stroke-width="6.2"/>
<line x1="159.4" y1="2410.7" x2="159.4" y2="2431.5" stroke-width="6.3"/>
<line x1="268.2" y1="2410.7" x2="268.2" y2="2424.1" stroke-width="6.1"/>
<line x1="377.1" y1="2410.7" x2="377.1" y2="2431.5" stroke-width="6.3"/>
<line x1="486.0" y1="2410.7" x2="486.0" y2="2424.1" stroke-width="6.1"/>
<line x1="594.8" y1="2410.7" x2="594.8" y2="2431.5" stroke-width="6.3"/>
<line x1="703.6" y1="2410.7" x2="703.6" y2="2424.1" stroke-width="6.1"/>
<line x1="812.5" y1="2410.7" x2="812.5" y2="2431.5" stroke-width="6.3"/>
<line x1="921.4" y1="2410.7" x2="921.4" y2="2424.1" stroke-width="6.1"/>
<line x1="1030.2" y1="2410.7" x2="1030.2" y2="2431.5" stroke-width="6.3"/>
<line x1="1139.0" y1="2410.7" x2="1139.0" y2="2424.1" stroke-width="6.1"/>
<line x1="1247.9" y1="2410.7" x2="1247.9" y2="2431.5" stroke-width="6.3"/>
<line x1="1356.8" y1="2410.7" x2="1356.8" y2="2424.1" stroke-width="6.1"/>
<line x1="1465.6" y1="2410.7" x2="1465.6" y2="2431.5" stroke-width="6.3"/>
<line x1="1574.4" y1="2410.7" x2="1574.4" y2="2424.1" stroke-width="6.1"/>
<line x1="1683.3" y1="2410.7" x2="1683.3" y2="2431.5" stroke-width="6.3"/>
</g>
<g font-weight="bold" font-size="33.4">
<text x="86.0" y="2422.3" textLength="44.9" lengthAdjust="spacingAndGlyphs">0.0</text>
<text x="86.0" y="2319.8" textLength="44.9" lengthAdjust="spacingAndGlyphs">0.5</text>
<text x="86.0" y="2217.4" textLength="44.9" lengthAdjust="spacingAndGlyphs">1.0</text>
<text x="86.0" y="2114.9" textLength="44.9" lengthAdjust="spacingAndGlyphs">1.5</text>
<text x="86.0" y="2012.5" textLength="44.9" lengthAdjust="spacingAndGlyphs">2.0</text>
<text x="86.0" y="1910.0" textLength="44.9" lengthAdjust="spacingAndGlyphs">2.5</text>
<text x="159.4" y="2464.3" text-anchor="middle" font-size="32.5">-6</text>
<text x="377.1" y="2464.3" text-anchor="middle" font-size="32.5">-4</text>
<text x="594.8" y="2464.3" text-anchor="middle" font-size="32.5">-2</text>
<text x="812.5" y="2464.3" text-anchor="middle" font-size="32.5">0</text>
<text x="1030.2" y="2464.3" text-anchor="middle" font-size="32.5">2</text>
<text x="1247.9" y="2464.3" text-anchor="middle" font-size="32.5">4</text>
<text x="1465.6" y="2464.3" text-anchor="middle" font-size="32.5">6</text>
<text x="1683.3" y="2464.3" text-anchor="middle" font-size="32.5">8</text>
</g>
<text x="668.5" y="1889.9" font-size="34.2" font-weight="bold" textLength="505.0" lengthAdjust="spacingAndGlyphs">Non-Enhancing Tumor vs. Brain</text>
<text transform="translate(58.5 2295.3) rotate(-90)" font-size="37.5" font-weight="bold" textLength="247.0" lengthAdjust="spacingAndGlyphs">-log<tspan font-size="26.2" dy="8.6">10</tspan><tspan dy="-8.6">(p-value)</tspan></text>
<text x="857.2" y="2481.7" font-size="33.5" font-weight="bold">log<tspan font-size="25.0" dy="10.6">2</tspan><tspan dy="-10.6">(FC)</tspan></text>
<g stroke="#111" stroke-width="1.6" stroke-linecap="butt">
<line x1="980.2" y1="2014.9" x2="995.0" y2="2031.5"/>
<line x1="970.4" y1="2049.4" x2="944.9" y2="2068.5"/>
<line x1="1047.2" y1="2018.0" x2="1043.2" y2="2032.4"/>
<line x1="1084.7" y1="2026.3" x2="1076.4" y2="2035.5"/>
<line x1="1060.7" y1="2048.4" x2="1065.6" y2="2055.5"/>
<line x1="1036.1" y1="2048.7" x2="1047.8" y2="2080.1"/>
<line x1="1001.7" y1="2109.4" x2="1009.1" y2="2120.0"/>
<line x1="1230.4" y1="2137.4" x2="1247.3" y2="2134.5"/>
</g>
<text x="813.0" y="2014.0" font-size="28.7" textLength="169.2" lengthAdjust="spacingAndGlyphs" stroke="#000" stroke-width="0.3">Ergothioneine</text>
<text x="626.7" y="2088.8" font-size="28.7" textLength="364.7" lengthAdjust="spacingAndGlyphs" stroke="#000" stroke-width="0.3">Glycerophosphoethanolamine</text>
<text x="1022.1" y="2014.9" font-size="28.7" textLength="59.9" lengthAdjust="spacingAndGlyphs" stroke="#000" stroke-width="0.3">GPC</text>
<text x="1085.8" y="2025.7" font-size="28.7" textLength="62.1" lengthAdjust="spacingAndGlyphs" stroke="#000" stroke-width="0.3">GPG</text>
<text x="1065.2" y="2077.7" font-size="28.7" textLength="274.5" lengthAdjust="spacingAndGlyphs" stroke="#000" stroke-width="0.3">Phosphoethanolamine</text>
<text x="1039.7" y="2104.8" font-size="28.7" textLength="333.9" lengthAdjust="spacingAndGlyphs" stroke="#000" stroke-width="0.3">1-methyl-5-imidazolelactate</text>
<text x="1005.3" y="2141.4" font-size="28.7" textLength="73.1" lengthAdjust="spacingAndGlyphs" stroke="#000" stroke-width="0.3">G-3-P</text>
<text x="1249.4" y="2142.9" font-size="28.7" textLength="59.2" lengthAdjust="spacingAndGlyphs" stroke="#000" stroke-width="0.3">GAA</text>
<g fill="#9c9c9c">
<circle cx="866.3" cy="2040.7" r="6.1"/>
<circle cx="873.4" cy="2040.7" r="6.1"/>
<circle cx="892.5" cy="2040.7" r="6.1"/>
<circle cx="898.7" cy="2040.7" r="6.1"/>
<circle cx="917.1" cy="2040.7" r="6.1"/>
<circle cx="901.1" cy="2102.3" r="6.1"/>
<circle cx="861.7" cy="2138.0" r="6.1"/>
<circle cx="717.3" cy="2183.9" r="6.1"/>
<circle cx="842.0" cy="2183.9" r="6.1"/>
<circle cx="863.2" cy="2183.9" r="6.1"/>
<circle cx="869.4" cy="2183.9" r="6.1"/>
<circle cx="874.6" cy="2183.9" r="6.1"/>
<circle cx="880.1" cy="2183.9" r="6.1"/>
<circle cx="886.3" cy="2183.9" r="6.1"/>
<circle cx="898.6" cy="2183.9" r="6.1"/>
<circle cx="902.6" cy="2183.9" r="6.1"/>
<circle cx="917.4" cy="2183.9" r="6.1"/>
<circle cx="934.6" cy="2183.9" r="6.1"/>
<circle cx="945.7" cy="2183.9" r="6.1"/>
<circle cx="951.0" cy="2183.9" r="6.1"/>
<circle cx="957.1" cy="2183.9" r="6.1"/>
<circle cx="963.9" cy="2183.9" r="6.1"/>
<circle cx="867.8" cy="2214.1" r="6.1"/>
<circle cx="905.4" cy="2214.1" r="6.1"/>
<circle cx="908.5" cy="2214.1" r="6.1"/>
<circle cx="921.7" cy="2214.1" r="6.1"/>
<circle cx="927.9" cy="2214.1" r="6.1"/>
<circle cx="934.0" cy="2214.1" r="6.1"/>
<circle cx="955.6" cy="2214.1" r="6.1"/>
<circle cx="988.2" cy="2237.2" r="6.1"/>
<circle cx="881.7" cy="2245.5" r="6.1"/>
<circle cx="886.3" cy="2245.5" r="6.1"/>
<circle cx="890.9" cy="2245.5" r="6.1"/>
<circle cx="895.5" cy="2245.5" r="6.1"/>
<circle cx="860.1" cy="2270.7" r="6.1"/>
<circle cx="825.7" cy="2275.6" r="6.1"/>
<circle cx="829.3" cy="2275.6" r="6.1"/>
<circle cx="850.0" cy="2275.6" r="6.1"/>
<circle cx="869.4" cy="2275.6" r="6.1"/>
<circle cx="873.4" cy="2275.6" r="6.1"/>
<circle cx="905.1" cy="2275.6" r="6.1"/>
<circle cx="1011.9" cy="2275.6" r="6.1"/>
<circle cx="734.8" cy="2302.7" r="6.1"/>
<circle cx="746.8" cy="2302.7" r="6.1"/>
<circle cx="780.1" cy="2302.7" r="6.1"/>
<circle cx="784.1" cy="2302.7" r="6.1"/>
<circle cx="826.9" cy="2302.7" r="6.1"/>
<circle cx="830.9" cy="2302.7" r="6.1"/>
<circle cx="835.5" cy="2302.7" r="6.1"/>
<circle cx="851.8" cy="2302.7" r="6.1"/>
<circle cx="864.8" cy="2302.7" r="6.1"/>
<circle cx="869.4" cy="2302.7" r="6.1"/>
<circle cx="874.0" cy="2302.7" r="6.1"/>
<circle cx="883.2" cy="2302.7" r="6.1"/>
<circle cx="887.8" cy="2302.7" r="6.1"/>
<circle cx="960.2" cy="2302.7" r="6.1"/>
<circle cx="723.1" cy="2323.1" r="6.1"/>
<circle cx="727.7" cy="2323.1" r="6.1"/>
<circle cx="771.5" cy="2323.1" r="6.1"/>
<circle cx="811.8" cy="2323.1" r="6.1"/>
<circle cx="815.5" cy="2323.1" r="6.1"/>
<circle cx="824.7" cy="2323.1" r="6.1"/>
<circle cx="832.4" cy="2323.1" r="6.1"/>
<circle cx="837.0" cy="2323.1" r="6.1"/>
<circle cx="841.7" cy="2323.1" r="6.1"/>
<circle cx="850.9" cy="2323.1" r="6.1"/>
<circle cx="860.4" cy="2323.1" r="6.1"/>
<circle cx="881.1" cy="2323.1" r="6.1"/>
<circle cx="915.9" cy="2323.1" r="6.1"/>
<circle cx="934.6" cy="2323.1" r="6.1"/>
<circle cx="952.5" cy="2323.1" r="6.1"/>
<circle cx="720.4" cy="2343.4" r="6.1"/>
<circle cx="757.0" cy="2343.4" r="6.1"/>
<circle cx="788.7" cy="2343.4" r="6.1"/>
<circle cx="807.8" cy="2343.4" r="6.1"/>
<circle cx="876.8" cy="2343.4" r="6.1"/>
<circle cx="900.5" cy="2343.4" r="6.1"/>
<circle cx="918.0" cy="2343.4" r="6.1"/>
<circle cx="921.7" cy="2343.4" r="6.1"/>
<circle cx="700.7" cy="2362.5" r="6.1"/>
<circle cx="776.7" cy="2362.5" r="6.1"/>
<circle cx="795.5" cy="2362.5" r="6.1"/>
<circle cx="816.4" cy="2362.5" r="6.1"/>
<circle cx="821.7" cy="2362.5" r="6.1"/>
<circle cx="826.9" cy="2362.5" r="6.1"/>
<circle cx="831.5" cy="2362.5" r="6.1"/>
<circle cx="837.0" cy="2362.5" r="6.1"/>
<circle cx="849.7" cy="2362.5" r="6.1"/>
<circle cx="890.6" cy="2362.5" r="6.1"/>
<circle cx="763.2" cy="2377.2" r="6.1"/>
<circle cx="767.8" cy="2377.2" r="6.1"/>
<circle cx="781.0" cy="2377.2" r="6.1"/>
<circle cx="785.3" cy="2377.2" r="6.1"/>
<circle cx="790.9" cy="2377.2" r="6.1"/>
<circle cx="802.6" cy="2377.2" r="6.1"/>
<circle cx="807.8" cy="2377.2" r="6.1"/>
<circle cx="812.4" cy="2377.2" r="6.1"/>
<circle cx="816.1" cy="2374.2" r="6.1"/>
<circle cx="821.7" cy="2377.2" r="6.1"/>
<circle cx="826.3" cy="2377.2" r="6.1"/>
<circle cx="832.4" cy="2377.2" r="6.1"/>
<circle cx="840.1" cy="2377.2" r="6.1"/>
<circle cx="846.3" cy="2377.2" r="6.1"/>
<circle cx="850.9" cy="2377.2" r="6.1"/>
<circle cx="854.6" cy="2377.2" r="6.1"/>
<circle cx="758.2" cy="2392.0" r="6.1"/>
<circle cx="781.9" cy="2392.0" r="6.1"/>
<circle cx="802.3" cy="2392.0" r="6.1"/>
<circle cx="808.7" cy="2392.0" r="6.1"/>
<circle cx="745.3" cy="2405.3" r="6.1"/>
<circle cx="766.2" cy="2405.3" r="6.1"/>
<circle cx="770.9" cy="2405.3" r="6.1"/>
<circle cx="777.0" cy="2405.3" r="6.1"/>
<circle cx="781.6" cy="2405.3" r="6.1"/>
<circle cx="787.8" cy="2405.3" r="6.1"/>
<circle cx="792.4" cy="2405.3" r="6.1"/>
<circle cx="798.6" cy="2405.3" r="6.1"/>
<circle cx="804.7" cy="2405.3" r="6.1"/>
<circle cx="809.4" cy="2405.3" r="6.1"/>
<circle cx="815.5" cy="2405.3" r="6.1"/>
<circle cx="830.3" cy="2405.3" r="6.1"/>
<circle cx="852.4" cy="2405.3" r="6.1"/>
<circle cx="781.6" cy="2412.4" r="6.1"/>
<circle cx="800.1" cy="2412.4" r="6.1"/>
<circle cx="830.9" cy="2409.0" r="6.1"/>
</g>
<g fill="#9334ff">
<circle cx="927.0" cy="2040.7" r="6.1"/>
<circle cx="975.5" cy="2040.7" r="6.1"/>
<circle cx="984.2" cy="2040.7" r="6.1"/>
<circle cx="997.4" cy="2040.7" r="6.1"/>
<circle cx="1039.4" cy="2040.7" r="6.1"/>
<circle cx="1042.5" cy="2040.7" r="6.1"/>
<circle cx="1058.6" cy="2040.7" r="6.1"/>
<circle cx="1071.5" cy="2040.7" r="6.1"/>
<circle cx="923.3" cy="2102.3" r="6.1"/>
<circle cx="939.6" cy="2102.3" r="6.1"/>
<circle cx="996.8" cy="2102.3" r="6.1"/>
<circle cx="963.5" cy="2138.2" r="6.1"/>
<circle cx="978.7" cy="2138.2" r="6.1"/>
<circle cx="983.3" cy="2138.2" r="6.1"/>
<circle cx="1221.9" cy="2138.8" r="6.1"/>
</g>
<circle cx="1371.7" cy="2330.2" r="5.9" fill="#9334ff"/><circle cx="1371.7" cy="2357.6" r="5.9" fill="#9c9c9c"/><circle cx="1371.7" cy="2384.1" r="5.9" fill="#068b06"/>
<text x="1419.0" y="2338.5" font-size="26.0" font-weight="bold" textLength="256.0" lengthAdjust="spacingAndGlyphs">Non-enhancing tumor</text>
<text x="1419.0" y="2366.3" font-size="26.0" font-weight="bold" textLength="169.0" lengthAdjust="spacingAndGlyphs">Not significant</text>
<text x="1419.0" y="2392.4" font-size="26.0" font-weight="bold" textLength="62.0" lengthAdjust="spacingAndGlyphs">Brain</text>
<g stroke="#000" stroke-width="3.4" fill="none" stroke-linecap="butt">
<line x1="106.9" y1="1327.9" x2="106.9" y2="1735.7"/>
<line x1="105.2" y1="1734.0" x2="453.0" y2="1734.0"/>
<line x1="95.9" y1="1329.6" x2="106.9" y2="1329.6"/>
<line x1="95.9" y1="1423.8" x2="106.9" y2="1423.8"/>
<line x1="95.9" y1="1518.0" x2="106.9" y2="1518.0"/>
<line x1="95.9" y1="1612.0" x2="106.9" y2="1612.0"/>
<line x1="95.9" y1="1706.2" x2="106.9" y2="1706.2"/>
<line x1="175.9" y1="1734.0" x2="175.9" y2="1745.5"/>
<line x1="279.7" y1="1734.0" x2="279.7" y2="1745.5"/>
<line x1="384.1" y1="1734.0" x2="384.1" y2="1745.5"/>
</g>
<g font-weight="bold" font-size="24">
<text x="44.6" y="1338.1" textLength="49.6" lengthAdjust="spacingAndGlyphs">1000</text>
<text x="57.0" y="1432.3" textLength="37.2" lengthAdjust="spacingAndGlyphs">100</text>
<text x="69.4" y="1526.5" textLength="24.8" lengthAdjust="spacingAndGlyphs">10</text>
<text x="81.8" y="1620.5" textLength="12.4" lengthAdjust="spacingAndGlyphs">1</text>
<text x="63.2" y="1714.7" textLength="31.0" lengthAdjust="spacingAndGlyphs">0.1</text>
</g>
<g font-weight="bold" font-size="30" text-anchor="middle">
<text x="176.2" y="1775.0">B</text>
<text x="280.0" y="1775.0">NE</text>
<text x="384.4" y="1775.0">E</text>
</g>
<text x="213.5" y="1327.4" font-size="29.5" font-weight="bold" textLength="98.5" lengthAdjust="spacingAndGlyphs">(i) GAA</text>
<text transform="translate(35.2 1640.3) rotate(-90)" font-size="24.3" font-weight="bold" textLength="243.5" lengthAdjust="spacingAndGlyphs">Normalized Peak Area</text>
<g stroke="#222" stroke-width="1.4" fill="none">
<path d="M175.9 1709.0 Q227.8 1536.1 279.7 1408.3 L384.1 1529.1"/>
<path d="M175.9 1732.6 Q227.8 1577.2 279.7 1462.3 L384.1 1443.0"/>
<path d="M175.9 1622.3 L279.7 1610.7 Q331.9 1486.2 384.1 1394.2"/>
<path d="M175.9 1651.0 L279.7 1618.1 Q331.9 1521.6 384.1 1450.2"/>
<path d="M175.9 1637.0 L279.7 1574.0 Q331.9 1492.3 384.1 1431.9"/>
<path d="M175.9 1633.0 L279.7 1648.9 L384.1 1583.8"/>
<path d="M175.9 1699.3 L279.7 1666.0 Q331.9 1572.8 384.1 1503.9"/>
<path d="M175.9 1637.0 Q280.0 1552.5 384.1 1490.0"/>
<path d="M175.9 1666.0 Q280.0 1537.8 384.1 1443.0"/>
<path d="M175.9 1645.0 Q280.0 1527.1 384.1 1440.0"/>
</g>
<circle cx="175.9" cy="1634.0" r="8.3" fill="#fdbcac"/>
<circle cx="175.9" cy="1622.3" r="8.3" fill="#f7404b"/>
<circle cx="175.9" cy="1645.0" r="8.3" fill="#f6588a"/>
<circle cx="175.9" cy="1650.0" r="8.3" fill="#f6588a"/>
<circle cx="175.9" cy="1637.0" r="8.3" fill="#9a3cff"/>
<circle cx="175.9" cy="1666.0" r="8.3" fill="#fd8877"/>
<circle cx="175.9" cy="1699.3" r="8.3" fill="#fd8877"/>
<circle cx="175.9" cy="1709.0" r="8.3" fill="#e2a2fb"/>
<circle cx="279.7" cy="1408.3" r="8.3" fill="#e2a2fb"/>
<circle cx="279.7" cy="1462.3" r="8.3" fill="#b465ff"/>
<circle cx="279.7" cy="1574.0" r="8.3" fill="#ee5c8c"/>
<circle cx="279.7" cy="1618.1" r="8.3" fill="#f5503f"/>
<circle cx="279.7" cy="1610.7" r="8.3" fill="#ef404c"/>
<circle cx="279.7" cy="1648.9" r="8.3" fill="#f8b8a8"/>
<circle cx="279.7" cy="1666.0" r="8.3" fill="#f08878"/>
<circle cx="384.1" cy="1394.2" r="8.3" fill="#f7404b"/>
<circle cx="384.1" cy="1430.6" r="8.3" fill="#fd8877"/>
<circle cx="384.1" cy="1431.9" r="8.3" fill="#f6588a"/>
<circle cx="384.1" cy="1450.2" r="8.3" fill="#f7404b"/>
<circle cx="384.1" cy="1443.5" r="8.3" fill="#b465ff"/>
<circle cx="384.1" cy="1503.9" r="8.3" fill="#fd8877"/>
<circle cx="384.1" cy="1490.3" r="8.3" fill="#9a3cff"/>
<circle cx="384.1" cy="1529.1" r="8.3" fill="#e2a2fb"/>
<circle cx="384.1" cy="1583.8" r="8.3" fill="#fdbcac"/>
<g stroke="#858585" stroke-width="1.2">
<line x1="175.0" y1="1781.6" x2="267.4" y2="1781.6"/>
<line x1="286.2" y1="1781.6" x2="384.0" y2="1781.6"/>
<line x1="175.0" y1="1810.7" x2="384.0" y2="1810.7"/>
</g>
<text x="191.5" y="1802.2" font-size="23.3" textLength="70.0" lengthAdjust="spacingAndGlyphs">p&lt;0.05</text>
<text x="320.9" y="1802.2" font-size="23.3" textLength="24.6" lengthAdjust="spacingAndGlyphs">ns</text>
<text x="234.5" y="1836.4" font-size="23.3" textLength="82.4" lengthAdjust="spacingAndGlyphs">p&lt;0.005</text>
<circle cx="175.9" cy="1732.4" r="7.3" fill="#b465ff"/>
<g stroke="#000" stroke-width="3.4" fill="none" stroke-linecap="butt">
<line x1="552.3" y1="1336.1" x2="552.3" y2="1726.4"/>
<line x1="550.6" y1="1724.7" x2="891.0" y2="1724.7"/>
<line x1="541.3" y1="1337.8" x2="552.3" y2="1337.8"/>
<line x1="541.3" y1="1428.2" x2="552.3" y2="1428.2"/>
<line x1="541.3" y1="1518.3" x2="552.3" y2="1518.3"/>
<line x1="541.3" y1="1608.4" x2="552.3" y2="1608.4"/>
<line x1="541.3" y1="1698.3" x2="552.3" y2="1698.3"/>
<line x1="620.0" y1="1724.7" x2="620.0" y2="1736.2"/>
<line x1="721.6" y1="1724.7" x2="721.6" y2="1736.2"/>
<line x1="823.2" y1="1724.7" x2="823.2" y2="1736.2"/>
</g>
<g font-weight="bold" font-size="24">
<text x="490.0" y="1346.3" textLength="49.6" lengthAdjust="spacingAndGlyphs">1000</text>
<text x="502.4" y="1436.7" textLength="37.2" lengthAdjust="spacingAndGlyphs">100</text>
<text x="514.8" y="1526.8" textLength="24.8" lengthAdjust="spacingAndGlyphs">10</text>
<text x="527.2" y="1616.9" textLength="12.4" lengthAdjust="spacingAndGlyphs">1</text>
<text x="508.6" y="1706.8" textLength="31.0" lengthAdjust="spacingAndGlyphs">0.1</text>
</g>
<g font-weight="bold" font-size="30" text-anchor="middle">
<text x="620.3" y="1766.1">B</text>
<text x="721.9" y="1766.1">NE</text>
<text x="823.5" y="1766.1">E</text>
</g>
<text x="630.0" y="1336.3" font-size="29.5" font-weight="bold" textLength="144.5" lengthAdjust="spacingAndGlyphs">(ii) Proline</text>
<text transform="translate(481.5 1641.8) rotate(-90)" font-size="24.3" font-weight="bold" textLength="233.5" lengthAdjust="spacingAndGlyphs">Normalized Peak Area</text>
<g stroke="#222" stroke-width="1.4" fill="none">
<path d="M620.0 1615.6 L823.2 1499.8"/>
<path d="M620.0 1693.8 Q670.8 1620.0 721.6 1565.5 L823.2 1571.3"/>
<path d="M620.0 1653.2 L721.6 1659.0 L823.2 1608.4"/>
<path d="M620.0 1659.6 L721.6 1643.7 L823.2 1578.0"/>
<path d="M620.0 1615.0 L721.6 1626.3 L823.2 1547.0"/>
<path d="M620.0 1625.7 L721.6 1605.5 L823.2 1507.7"/>
<path d="M620.0 1637.3 L721.6 1602.0 L823.2 1542.4"/>
<path d="M620.0 1621.4 L721.6 1599.7 L823.2 1537.5"/>
<path d="M620.0 1634.0 L823.2 1545.0"/>
</g>
<circle cx="620.0" cy="1612.1" r="8.3" fill="#f7404b"/>
<circle cx="620.0" cy="1625.7" r="8.3" fill="#fb4a4a"/>
<circle cx="620.0" cy="1621.8" r="8.3" fill="#fd6a90"/>
<circle cx="620.0" cy="1615.6" r="8.3" fill="#b465ff"/>
<circle cx="620.0" cy="1637.3" r="8.3" fill="#c585ff"/>
<circle cx="620.0" cy="1653.2" r="8.3" fill="#fdccbc"/>
<circle cx="620.0" cy="1659.6" r="8.3" fill="#fb9a89"/>
<circle cx="620.0" cy="1693.8" r="8.3" fill="#e8b2fd"/>
<circle cx="721.6" cy="1565.5" r="8.3" fill="#e8b2fd"/>
<circle cx="721.6" cy="1599.7" r="8.3" fill="#f7404b"/>
<circle cx="721.6" cy="1605.5" r="8.3" fill="#f7404b"/>
<circle cx="721.6" cy="1602.0" r="8.3" fill="#c070ff"/>
<circle cx="721.6" cy="1626.3" r="8.3" fill="#f6604f"/>
<circle cx="721.6" cy="1643.7" r="8.3" fill="#f79a89"/>
<circle cx="721.6" cy="1659.0" r="8.3" fill="#fdccbc"/>
<circle cx="823.2" cy="1507.7" r="8.3" fill="#f7404b"/>
<circle cx="823.2" cy="1499.8" r="8.3" fill="#a860ff"/>
<circle cx="823.2" cy="1537.5" r="8.3" fill="#f6588a"/>
<circle cx="823.2" cy="1547.0" r="8.3" fill="#f7404b"/>
<circle cx="823.2" cy="1542.4" r="8.3" fill="#c585ff"/>
<circle cx="823.2" cy="1578.0" r="8.3" fill="#fb9a89"/>
<circle cx="823.2" cy="1571.3" r="8.3" fill="#e8b2fd"/>
<circle cx="823.2" cy="1608.4" r="8.3" fill="#fdccbc"/>
<g stroke="#858585" stroke-width="1.2">
<line x1="620.0" y1="1774.2" x2="715.5" y2="1774.2"/>
<line x1="725.7" y1="1774.2" x2="821.5" y2="1774.2"/>
<line x1="620.0" y1="1811.9" x2="821.5" y2="1811.9"/>
</g>
<text x="652.8" y="1795.4" font-size="23.3" textLength="23.6" lengthAdjust="spacingAndGlyphs">ns</text>
<text x="742.0" y="1798.4" font-size="23.3" textLength="69.0" lengthAdjust="spacingAndGlyphs">p&lt;0.05</text>
<text x="680.3" y="1835.1" font-size="23.3" textLength="80.9" lengthAdjust="spacingAndGlyphs">p&lt;0.005</text>
<g stroke="#000" stroke-width="3.4" fill="none" stroke-linecap="butt">
<line x1="998.7" y1="1334.6" x2="998.7" y2="1727.9"/>
<line x1="997.0" y1="1726.2" x2="1339.6" y2="1726.2"/>
<line x1="987.7" y1="1336.3" x2="998.7" y2="1336.3"/>
<line x1="987.7" y1="1427.5" x2="998.7" y2="1427.5"/>
<line x1="987.7" y1="1518.7" x2="998.7" y2="1518.7"/>
<line x1="987.7" y1="1609.0" x2="998.7" y2="1609.0"/>
<line x1="987.7" y1="1699.6" x2="998.7" y2="1699.6"/>
<line x1="1066.7" y1="1726.2" x2="1066.7" y2="1737.7"/>
<line x1="1168.6" y1="1726.2" x2="1168.6" y2="1737.7"/>
<line x1="1270.7" y1="1726.2" x2="1270.7" y2="1737.7"/>
</g>
<g font-weight="bold" font-size="24">
<text x="936.4" y="1344.8" textLength="49.6" lengthAdjust="spacingAndGlyphs">1000</text>
<text x="948.8" y="1436.0" textLength="37.2" lengthAdjust="spacingAndGlyphs">100</text>
<text x="961.2" y="1527.2" textLength="24.8" lengthAdjust="spacingAndGlyphs">10</text>
<text x="973.6" y="1617.5" textLength="12.4" lengthAdjust="spacingAndGlyphs">1</text>
<text x="955.0" y="1708.1" textLength="31.0" lengthAdjust="spacingAndGlyphs">0.1</text>
</g>
<g font-weight="bold" font-size="30" text-anchor="middle">
<text x="1067.0" y="1769.0">B</text>
<text x="1168.9" y="1769.0">NE</text>
<text x="1271.0" y="1769.0">E</text>
</g>
<text x="1015.5" y="1334.9" font-size="29.5" font-weight="bold" textLength="254.3" lengthAdjust="spacingAndGlyphs">(iii) Deoxycarnitine</text>
<text transform="translate(925.8 1649.5) rotate(-90)" font-size="24.3" font-weight="bold" textLength="249.0" lengthAdjust="spacingAndGlyphs">Normalized Peak Area</text>
<g stroke="#222" stroke-width="1.4" fill="none">
<path d="M1066.7 1601.1 L1168.6 1617.6 L1270.7 1525.0"/>
<path d="M1066.7 1610.7 L1168.6 1614.7 L1270.7 1570.2"/>
<path d="M1066.7 1622.9 L1168.6 1553.4 L1270.7 1541.2"/>
<path d="M1066.7 1627.2 L1168.6 1564.4 L1270.7 1528.8"/>
<path d="M1168.6 1558.0 L1270.7 1493.2"/>
<path d="M1066.7 1636.5 L1270.7 1549.6"/>
<path d="M1066.7 1651.2 L1168.6 1628.6 L1270.7 1580.9"/>
<path d="M1066.7 1726.2 L1168.6 1657.0 L1270.7 1563.5"/>
<path d="M1066.7 1632.0 L1168.6 1641.7 L1270.7 1586.7"/>
</g>
<circle cx="1066.7" cy="1610.7" r="8.3" fill="#fd8877"/>
<circle cx="1066.7" cy="1601.1" r="8.3" fill="#f7404b"/>
<circle cx="1066.7" cy="1622.9" r="8.3" fill="#e2a2fb"/>
<circle cx="1066.7" cy="1627.2" r="8.3" fill="#c070ff"/>
<circle cx="1066.7" cy="1636.5" r="8.3" fill="#9a3cff"/>
<circle cx="1066.7" cy="1651.2" r="8.3" fill="#f6588a"/>
<circle cx="1066.7" cy="1726.2" r="8.3" fill="#fd8877"/>
<circle cx="1168.6" cy="1553.4" r="8.3" fill="#e2a2fb"/>
<circle cx="1168.6" cy="1564.4" r="8.3" fill="#b465ff"/>
<circle cx="1168.6" cy="1614.7" r="8.3" fill="#fdbcac"/>
<circle cx="1168.6" cy="1617.6" r="8.3" fill="#ef404c"/>
<circle cx="1168.6" cy="1641.7" r="8.3" fill="#f05040"/>
<circle cx="1168.6" cy="1628.6" r="8.3" fill="#ee6090"/>
<circle cx="1168.6" cy="1657.0" r="8.3" fill="#f08878"/>
<circle cx="1270.7" cy="1493.2" r="8.3" fill="#b465ff"/>
<circle cx="1270.7" cy="1528.8" r="8.3" fill="#f6588a"/>
<circle cx="1270.7" cy="1525.0" r="8.3" fill="#f7404b"/>
<circle cx="1270.7" cy="1541.2" r="8.3" fill="#e2a2fb"/>
<circle cx="1270.7" cy="1549.6" r="8.3" fill="#9a3cff"/>
<circle cx="1270.7" cy="1570.2" r="8.3" fill="#fdbcac"/>
<circle cx="1270.7" cy="1563.5" r="8.3" fill="#fd8877"/>
<circle cx="1270.7" cy="1586.7" r="8.3" fill="#f84838"/>
<circle cx="1270.7" cy="1580.9" r="8.3" fill="#f6588a"/>
<g stroke="#858585" stroke-width="1.2">
<line x1="1063.8" y1="1780.6" x2="1160.8" y2="1780.6"/>
<line x1="1171.5" y1="1780.6" x2="1268.7" y2="1780.6"/>
<line x1="1063.8" y1="1817.6" x2="1268.7" y2="1817.6"/>
</g>
<text x="1100.0" y="1803.3" font-size="23.3" textLength="24.2" lengthAdjust="spacingAndGlyphs">ns</text>
<text x="1185.7" y="1805.6" font-size="23.3" textLength="69.0" lengthAdjust="spacingAndGlyphs">p&lt;0.05</text>
<text x="1128.4" y="1841.8" font-size="23.3" textLength="81.5" lengthAdjust="spacingAndGlyphs">p&lt;0.005</text>
<g stroke="#000" stroke-width="3.4" fill="none" stroke-linecap="butt">
<line x1="1439.0" y1="1334.6" x2="1439.0" y2="1726.7"/>
<line x1="1437.3" y1="1725.0" x2="1779.7" y2="1725.0"/>
<line x1="1428.0" y1="1336.3" x2="1439.0" y2="1336.3"/>
<line x1="1428.0" y1="1426.9" x2="1439.0" y2="1426.9"/>
<line x1="1428.0" y1="1518.1" x2="1439.0" y2="1518.1"/>
<line x1="1428.0" y1="1608.4" x2="1439.0" y2="1608.4"/>
<line x1="1428.0" y1="1699.0" x2="1439.0" y2="1699.0"/>
<line x1="1506.7" y1="1725.0" x2="1506.7" y2="1736.5"/>
<line x1="1608.9" y1="1725.0" x2="1608.9" y2="1736.5"/>
<line x1="1710.8" y1="1725.0" x2="1710.8" y2="1736.5"/>
</g>
<g font-weight="bold" font-size="24">
<text x="1376.7" y="1344.8" textLength="49.6" lengthAdjust="spacingAndGlyphs">1000</text>
<text x="1389.1" y="1435.4" textLength="37.2" lengthAdjust="spacingAndGlyphs">100</text>
<text x="1401.5" y="1526.6" textLength="24.8" lengthAdjust="spacingAndGlyphs">10</text>
<text x="1413.9" y="1616.9" textLength="12.4" lengthAdjust="spacingAndGlyphs">1</text>
<text x="1395.3" y="1707.5" textLength="31.0" lengthAdjust="spacingAndGlyphs">0.1</text>
</g>
<g font-weight="bold" font-size="30" text-anchor="middle">
<text x="1507.0" y="1767.6">B</text>
<text x="1609.2" y="1767.6">NE</text>
<text x="1711.1" y="1767.6">E</text>
</g>
<text x="1497.5" y="1334.9" font-size="29.5" font-weight="bold" textLength="173.5" lengthAdjust="spacingAndGlyphs">(iv) Carnitine</text>
<text transform="translate(1368.2 1642.3) rotate(-90)" font-size="24.3" font-weight="bold" textLength="234.5" lengthAdjust="spacingAndGlyphs">Normalized Peak Area</text>
<g stroke="#222" stroke-width="1.4" fill="none">
<path d="M1506.7 1602.6 L1608.9 1620.0 L1710.8 1560.6"/>
<path d="M1506.7 1611.3 L1608.9 1576.5 L1710.8 1578.6"/>
<path d="M1506.7 1620.0 L1608.9 1608.4 L1710.8 1529.7"/>
<path d="M1506.7 1628.6 L1608.9 1576.5 L1710.8 1521.5"/>
<path d="M1506.7 1645.4 L1710.8 1546.7"/>
<path d="M1506.7 1661.3 L1608.9 1594.5 L1710.8 1566.4"/>
<path d="M1506.7 1677.0 L1608.9 1654.7 L1710.8 1585.2"/>
<path d="M1506.7 1651.2 L1608.9 1605.0 L1710.8 1533.1"/>
<path d="M1506.7 1606.0 L1608.9 1570.0 L1710.8 1526.0"/>
</g>
<circle cx="1506.7" cy="1606.0" r="8.3" fill="#fd8877"/>
<circle cx="1506.7" cy="1602.6" r="8.3" fill="#fdccbc"/>
<circle cx="1506.7" cy="1620.0" r="8.3" fill="#f7404b"/>
<circle cx="1506.7" cy="1611.3" r="8.3" fill="#e8b2fd"/>
<circle cx="1506.7" cy="1628.6" r="8.3" fill="#c585ff"/>
<circle cx="1506.7" cy="1651.2" r="8.3" fill="#fd8877"/>
<circle cx="1506.7" cy="1645.4" r="8.3" fill="#a860ff"/>
<circle cx="1506.7" cy="1661.3" r="8.3" fill="#f87098"/>
<circle cx="1506.7" cy="1677.0" r="8.3" fill="#f6604f"/>
<circle cx="1608.9" cy="1576.5" r="8.3" fill="#c070ff"/>
<circle cx="1608.9" cy="1620.0" r="8.3" fill="#fdccbc"/>
<circle cx="1608.9" cy="1594.5" r="8.3" fill="#f06890"/>
<circle cx="1608.9" cy="1608.4" r="8.3" fill="#f05058"/>
<circle cx="1608.9" cy="1654.7" r="8.3" fill="#f6604f"/>
<circle cx="1710.8" cy="1533.1" r="8.3" fill="#fd8877"/>
<circle cx="1710.8" cy="1529.7" r="8.3" fill="#f7404b"/>
<circle cx="1710.8" cy="1521.5" r="8.3" fill="#c070ff"/>
<circle cx="1710.8" cy="1546.7" r="8.3" fill="#a860ff"/>
<circle cx="1710.8" cy="1560.6" r="8.3" fill="#fdccbc"/>
<circle cx="1710.8" cy="1585.2" r="8.3" fill="#f6604f"/>
<circle cx="1710.8" cy="1566.4" r="8.3" fill="#f87098"/>
<circle cx="1710.8" cy="1578.6" r="8.3" fill="#e8b2fd"/>
<g stroke="#858585" stroke-width="1.2">
<line x1="1505.3" y1="1778.3" x2="1602.2" y2="1778.3"/>
<line x1="1611.8" y1="1778.3" x2="1708.7" y2="1778.3"/>
<line x1="1505.3" y1="1813.3" x2="1708.7" y2="1813.3"/>
</g>
<text x="1543.3" y="1799.8" font-size="23.3" textLength="23.5" lengthAdjust="spacingAndGlyphs">ns</text>
<text x="1624.9" y="1802.7" font-size="23.3" textLength="69.3" lengthAdjust="spacingAndGlyphs">p&lt;0.05</text>
<text x="1567.9" y="1838.3" font-size="23.3" textLength="81.1" lengthAdjust="spacingAndGlyphs">p&lt;0.005</text>
</svg></body></html>
